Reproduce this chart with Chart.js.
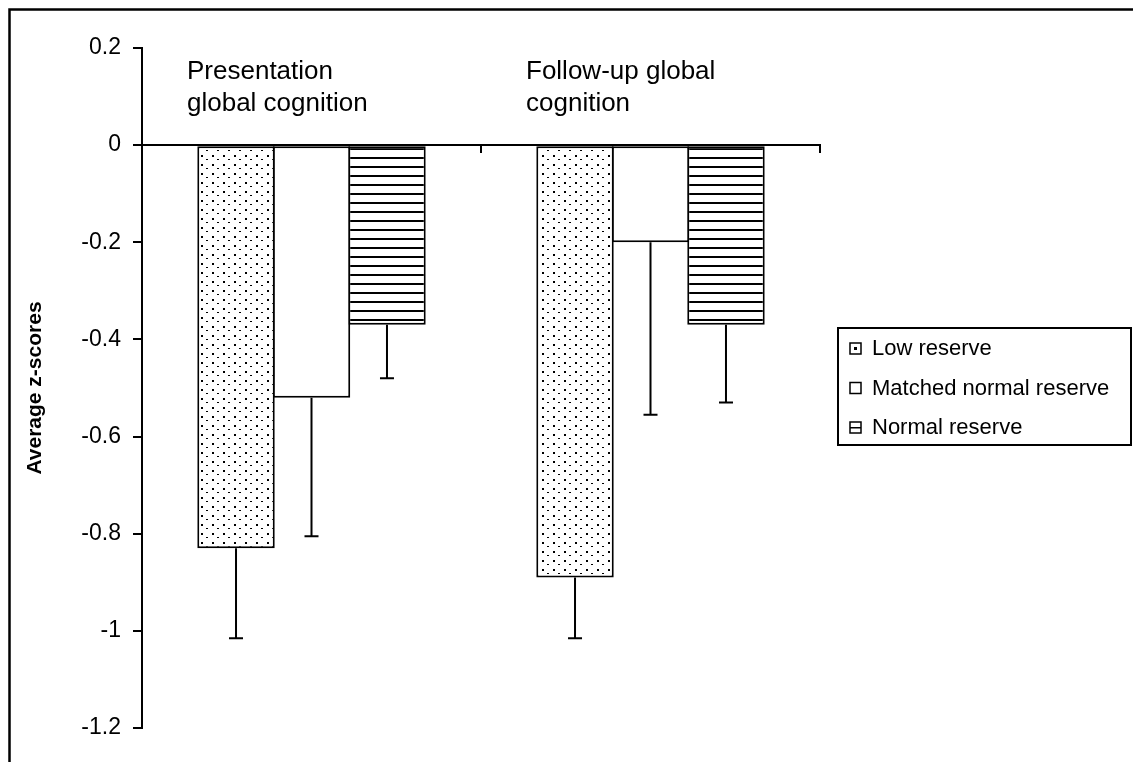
<!DOCTYPE html>
<html>
<head>
<meta charset="utf-8">
<script src="https://cdn.jsdelivr.net/npm/chart.js@4.4.1/dist/chart.umd.min.js"></script>
<style>
  html, body { margin: 0; padding: 0; background: #fff; }
  #wrap { width: 1133px; height: 762px; position: relative; }
</style>
</head>
<body>
<div id="wrap"><canvas id="zChart"></canvas></div>
<script>
// data
const categories = ['Presentation global cognition', 'Follow-up global cognition'];
const categoryLines = [['Presentation', 'global cognition'], ['Follow-up global', 'cognition']];
const seriesNames = ['Low reserve', 'Matched normal reserve', 'Normal reserve'];
const lowReserve = [-0.83, -0.89];
const matchedReserve = [-0.52, -0.20];
const normalReserve = [-0.37, -0.37];
// lower end of each error bar
const lowReserveErr = [-1.015, -1.015];
const matchedReserveErr = [-0.805, -0.555];
const normalReserveErr = [-0.48, -0.53];
const yTicks = [0.2, 0, -0.2, -0.4, -0.6, -0.8, -1, -1.2];

const FONT = "'Liberation Sans', Arial, sans-serif";

function dotPattern() {
    const c = document.createElement('canvas');
    c.width = 11; c.height = 9;
    const g = c.getContext('2d');
    g.fillStyle = '#fff';
    g.fillRect(0, 0, 11, 9);
    g.fillStyle = '#000';
    g.fillRect(3, 2, 2, 2);
    g.fillRect(8, 6, 2, 1);
    return g.createPattern(c, 'repeat');
}

function linePattern() {
    const c = document.createElement('canvas');
    c.width = 8; c.height = 9;
    const g = c.getContext('2d');
    g.fillStyle = '#fff';
    g.fillRect(0, 0, 8, 9);
    g.fillStyle = '#000';
    g.fillRect(0, 4, 8, 2);
    return g.createPattern(c, 'repeat');
}

const fills = [dotPattern(), '#ffffff', linePattern()];
const errs = [lowReserveErr, matchedReserveErr, normalReserveErr];

const extras = {
    id: 'extras',
    afterDatasetsDraw(chart) {
        const ctx = chart.ctx;
        const y = chart.scales.y;
        const x = chart.scales.x;
        ctx.save();
        ctx.strokeStyle = '#000';
        ctx.lineWidth = 2;
        // error bars (downward only)
        chart.data.datasets.forEach((ds, di) => {
            const meta = chart.getDatasetMeta(di);
            meta.data.forEach((bar, i) => {
                const yEnd = y.getPixelForValue(errs[di][i]);
                ctx.beginPath();
                ctx.moveTo(bar.x, bar.y);
                ctx.lineTo(bar.x, yEnd);
                ctx.moveTo(bar.x - 7, yEnd);
                ctx.lineTo(bar.x + 7, yEnd);
                ctx.stroke();
            });
        });
        // category captions
        const catW = (chart.chartArea.right - chart.chartArea.left) / categories.length;
        ctx.fillStyle = '#000';
        ctx.font = '26px ' + FONT;
        ctx.textBaseline = 'alphabetic';
        ctx.textAlign = 'left';
        categoryLines.forEach((lines, i) => {
            const left = x.getPixelForValue(i) - catW / 2 + 45;
            lines.forEach((t, k) => {
                ctx.fillText(t, left, chart.chartArea.top + 31 + k * 32);
            });
        });
        ctx.restore();
    },
    afterDraw(chart) {
        const ctx = chart.ctx;
        ctx.save();
        // outer frame
        ctx.strokeStyle = '#000';
        ctx.lineWidth = 2.5;
        ctx.strokeRect(9.5, 9.5, 2000, 2000);
        // legend box
        const bx = 838, by = 328, bw = 293, bh = 117;
        ctx.lineWidth = 2;
        ctx.strokeRect(bx, by, bw, bh);
        ctx.font = '22px ' + FONT;
        ctx.fillStyle = '#000';
        ctx.textBaseline = 'middle';
        chart.data.datasets.forEach((ds, i) => {
            const cy = by + 20 + i * 39.5;
            const sx = 850, sy = cy - 5;
            ctx.lineWidth = 1.5;
            ctx.fillStyle = '#fff';
            ctx.fillRect(sx, sy, 11, 11);
            ctx.strokeRect(sx, sy, 11, 11);
            ctx.fillStyle = '#000';
            if (i === 0) ctx.fillRect(sx + 4, sy + 4, 3, 3);
            if (i === 2) ctx.fillRect(sx, sy + 5, 11, 1.5);
            ctx.fillText(ds.label, 872, cy + 1);
        });
        ctx.restore();
    }
};

new Chart(document.getElementById('zChart'), {
    type: 'bar',
    data: {
        labels: categories,
        datasets: [
            { label: seriesNames[0], data: lowReserve, backgroundColor: fills[0] },
            { label: seriesNames[1], data: matchedReserve, backgroundColor: fills[1] },
            { label: seriesNames[2], data: normalReserve, backgroundColor: fills[2] }
        ]
    },
    options: {
        responsive: true,
        maintainAspectRatio: false,
        animation: false,
        layout: { padding: { left: 0, top: 48, right: 313, bottom: 34 } },
        datasets: {
            bar: {
                borderColor: '#000',
                borderWidth: 2,
                borderSkipped: false,
                categoryPercentage: 0.668,
                barPercentage: 1.026
            }
        },
        plugins: { legend: { display: false }, tooltip: { enabled: false } },
        scales: {
            x: {
                position: { y: 0 },
                ticks: { display: false },
                grid: { offset: true, drawOnChartArea: false, drawTicks: true, tickLength: 7, color: '#000', lineWidth: 2 },
                border: { color: '#000', width: 2 },
                afterFit(scale) { scale.height = 0; }
            },
            y: {
                min: -1.2,
                max: 0.2,
                afterBuildTicks(scale) { scale.ticks = yTicks.map(v => ({ value: v })); },
                ticks: {
                    color: '#000',
                    padding: 12,
                    font: { family: FONT, size: 23 },
                    callback: v => String(Number(v.toFixed(1)))
                },
                grid: { drawOnChartArea: false, tickLength: 9, color: '#000', lineWidth: 2 },
                border: { color: '#000', width: 2 },
                title: {
                    display: true,
                    text: 'Average z-scores',
                    color: '#000',
                    font: { family: FONT, size: 21, weight: 'bold' },
                    padding: { top: 23, bottom: 0 }
                },
                afterFit(scale) { scale.width = 142; }
            }
        }
    },
    plugins: [extras]
});
</script>
</body>
</html>
